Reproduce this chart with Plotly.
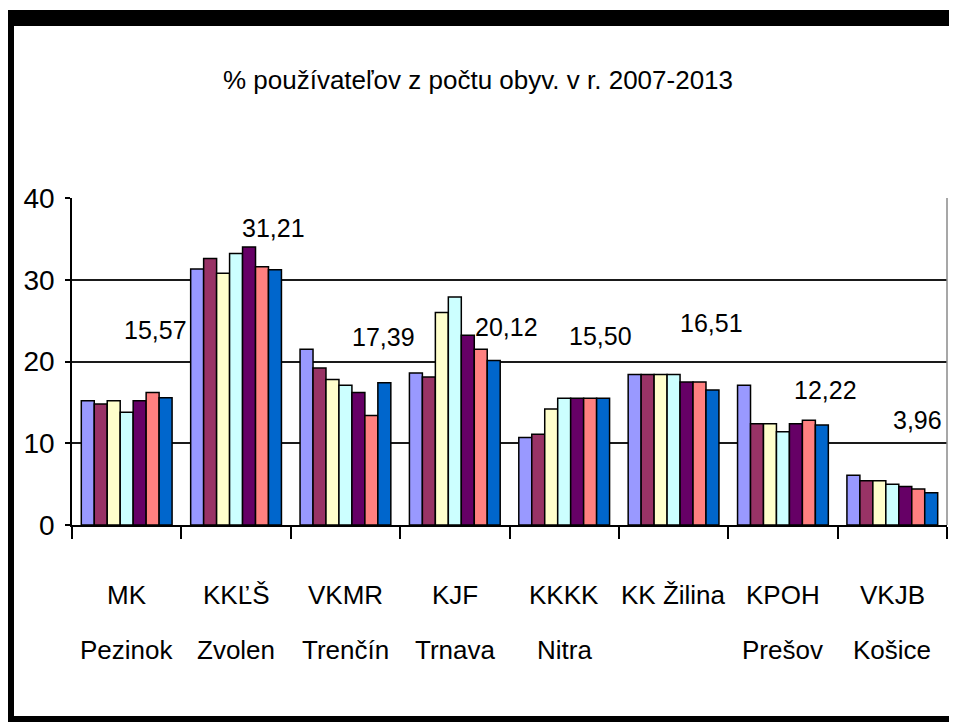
import plotly.graph_objects as go

# ---- data ----
cat_line1 = ["MK", "KKĽŠ", "VKMR", "KJF", "KKKK", "KK Žilina", "KPOH", "VKJB"]
cat_line2 = ["Pezinok", "Zvolen", "Trenčín", "Trnava", "Nitra", "", "Prešov", "Košice"]
years = ["2007", "2008", "2009", "2010", "2011", "2012", "2013"]

v2007 = [15.2, 31.3, 21.5, 18.6, 10.7, 18.4, 17.1, 6.1]
v2008 = [14.8, 32.6, 19.2, 18.1, 11.1, 18.4, 12.4, 5.4]
v2009 = [15.2, 30.8, 17.8, 26.0, 14.2, 18.4, 12.4, 5.4]
v2010 = [13.8, 33.2, 17.1, 27.9, 15.5, 18.4, 11.4, 5.0]
v2011 = [15.2, 34.0, 16.2, 23.2, 15.5, 17.5, 12.4, 4.7]
v2012 = [16.2, 31.6, 13.4, 21.5, 15.5, 17.5, 12.8, 4.4]
v2013 = [15.57, 31.21, 17.39, 20.12, 15.50, 16.51, 12.22, 3.96]

y_ticks = [0, 10, 20, 30, 40]
title_text = "% používateľov z počtu obyv. v r. 2007-2013"

# ---- styling / layout constants ----
series = [v2007, v2008, v2009, v2010, v2011, v2012, v2013]
colors = ["#9999FF", "#993366", "#FFFFCC", "#CCFFFF", "#660066", "#FF8080", "#0066CC"]
FONT = "Liberation Sans, Arial, sans-serif"

# value-label placement (offset in category units, height in data units)
lab_dx = [0.26, 0.34, 0.35, 0.47, 0.33, 0.35, 0.39, 0.23]
lab_y = [23.9, 36.3, 23.0, 24.2, 23.1, 24.7, 16.5, 12.8]

OFF = 8  # page body margin of the html page
W, H = 957 - OFF, 722 - OFF
ML, MT = 72 - OFF, 198 - OFF
MR = W - (947 - OFF)
MB = H - (525 - OFF)
PW, PH = W - ML - MR, H - MT - MB


def px_x(p):  # page pixel -> paper x
    return (p - OFF - ML) / PW


def px_y(p):  # page pixel -> paper y
    return (H - MB - (p - OFF)) / PH


cats = [a + ("|" + b if b else "") for a, b in zip(cat_line1, cat_line2)]

fig = go.Figure()
for yr, vals, col in zip(years, series, colors):
    fig.add_trace(go.Bar(
        x=cats, y=vals, name=yr,
        marker=dict(color=col, line=dict(color="#000000", width=1.5)),
    ))

annotations = []
for i, (a, b) in enumerate(zip(cat_line1, cat_line2)):
    annotations.append(dict(x=i, y=px_y(595), xref="x", yref="paper", text=a,
                            showarrow=False, xanchor="center", yanchor="middle",
                            font=dict(family=FONT, size=26, color="#000")))
    if b:
        annotations.append(dict(x=i, y=px_y(650), xref="x", yref="paper", text=b,
                                showarrow=False, xanchor="center", yanchor="middle",
                                font=dict(family=FONT, size=26, color="#000")))

for i, v in enumerate(v2013):
    annotations.append(dict(x=i + lab_dx[i], y=lab_y[i], xref="x", yref="y",
                            text=f"{v:.2f}".replace(".", ","), showarrow=False,
                            xanchor="center", yanchor="middle",
                            font=dict(family=FONT, size=25, color="#000")))

shapes = [
    # frame
    dict(type="rect", xref="paper", yref="paper", x0=px_x(6), x1=px_x(957), y0=px_y(26), y1=px_y(10),
         fillcolor="#000", line=dict(width=0), layer="above"),
    dict(type="rect", xref="paper", yref="paper", x0=px_x(6), x1=px_x(14), y0=px_y(722), y1=px_y(10),
         fillcolor="#000", line=dict(width=0), layer="above"),
    dict(type="rect", xref="paper", yref="paper", x0=px_x(6), x1=px_x(957), y0=px_y(722), y1=px_y(716),
         fillcolor="#000", line=dict(width=0), layer="above"),
    dict(type="line", xref="paper", yref="paper", x0=px_x(952), x1=px_x(952), y0=px_y(716), y1=px_y(26),
         line=dict(color="#c8c8c8", width=1.5)),
    # plot area right border
    dict(type="line", xref="paper", yref="paper", x0=1, x1=1, y0=0, y1=1,
         line=dict(color="#8a8a8a", width=1.5)),
]

fig.update_layout(
    width=W, height=H,
    margin=dict(l=ML, r=MR, t=MT, b=MB, pad=0),
    paper_bgcolor="#ffffff", plot_bgcolor="#ffffff",
    showlegend=False,
    barmode="group", bargap=0.17, bargroupgap=0,
    title=dict(text=title_text, x=(478 - OFF) / W, xanchor="center", y=1 - (80 - OFF) / H,
               yanchor="middle", font=dict(family=FONT, size=26, color="#000")),
    font=dict(family=FONT, color="#000"),
    annotations=annotations,
    shapes=shapes,
)
fig.update_xaxes(
    type="category", range=[-0.5, 7.5], tickson="boundaries",
    ticks="outside", ticklen=12, tickwidth=1.5, tickcolor="#000",
    showticklabels=False, showline=True, linecolor="#000", linewidth=2,
    showgrid=False, zeroline=False,
)
fig.update_yaxes(
    range=[0, 40], tickvals=y_ticks, ticks="outside", ticklen=5, tickwidth=1.5, tickcolor="#000",
    showline=True, linecolor="#000", linewidth=1.5,
    showgrid=True, gridcolor="#1a1a1a", gridwidth=2, zeroline=False,
    tickfont=dict(family=FONT, size=28, color="#000"), ticklabelstandoff=5,
)

fig.write_html("out.html")
